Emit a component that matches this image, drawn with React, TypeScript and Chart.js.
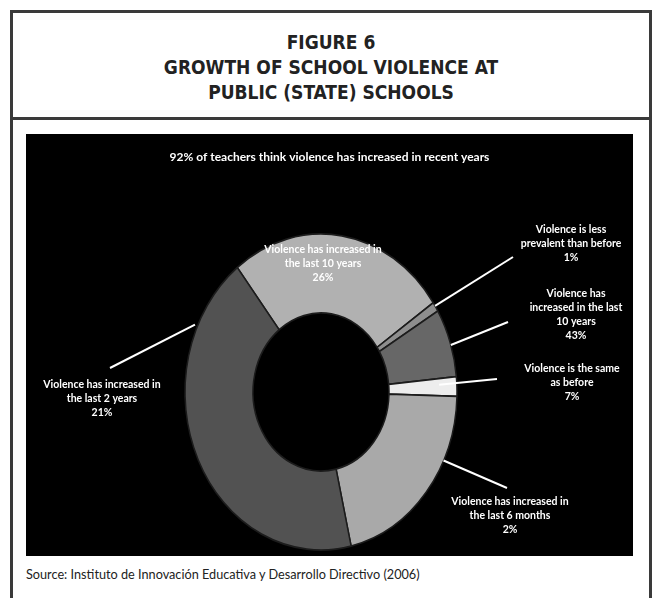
import React, { useEffect, useRef } from "react";
import { Chart, registerables } from "chart.js";

Chart.register(...registerables);

// ---- data ----
const categories = [
  "Violence has increased in the last 10 years",
  "Violence is less prevalent than before",
  "Violence has increased in the last 10 years (b)",
  "Violence is the same as before",
  "Violence has increased in the last 6 months",
  "Violence has increased in the last 2 years",
];
const sliceShares = [26, 1, 7, 2, 21, 43];
const printedPercents = ["26%", "1%", "43%", "7%", "2%", "21%"];
const labelLines = [
  ["Violence has increased in", "the last 10 years"],
  ["Violence is less", "prevalent than before"],
  ["Violence has", "increased in the last", "10 years"],
  ["Violence is the same", "as before"],
  ["Violence has increased in", "the last 6 months"],
  ["Violence has increased in", "the last 2 years"],
];
const subtitleText = "92% of teachers think violence has increased in recent years";
const titleLines = ["FIGURE 6", "GROWTH OF SCHOOL VIOLENCE AT", "PUBLIC (STATE) SCHOOLS"];
const sourceText = "Source: Instituto de Innovación Educativa y Desarrollo Directivo (2006)";

// ---- styles / layout ----
const sliceColors = ["#b1b1b1", "#8e8e8e", "#676767", "#ededed", "#a9a9a9", "#525252"];
const Y_STRETCH = 158 / 136;
const LABEL_FONT = "bold 10.5px Lato, 'Open Sans', sans-serif";
const LINE_H = 14;
// text anchor (first line centre) and leader line, relative to doughnut centre
const labelLayout = [
  { tx: 2, ty: -142, leader: null },
  { tx: 250, ty: -162, leader: { angle: 57, r: 1.0, ex: 192, ey: -135 } },
  { tx: 255, ty: -98, leader: { angle: 72.7, r: 1.0, ex: 187, ey: -70 } },
  { tx: 251, ty: -23, leader: { angle: 87, r: 0.87, ex: 176, ey: -13 } },
  { tx: 189, ty: 110, leader: { angle: 115.7, r: 1.0, ex: 186, ey: 96 } },
  { tx: -219, ty: -7, leader: { angle: 294.7, r: 1.02, ex: -211, ey: -24 } },
];

const ellipsePlugin = {
  id: "ellipseStretch",
  beforeDatasetsDraw(chart: any) {
    const arc = chart.getDatasetMeta(0).data[0];
    if (!arc) return;
    const ctx = chart.ctx;
    ctx.save();
    ctx.translate(arc.x, arc.y);
    ctx.scale(1, Y_STRETCH);
    ctx.translate(-arc.x, -arc.y);
  },
  afterDatasetsDraw(chart: any) {
    chart.ctx.restore();
  },
};

const labelPlugin = {
  id: "sliceLabels",
  afterDraw(chart: any) {
    const ctx = chart.ctx;
    const meta = chart.getDatasetMeta(0);
    const arc0 = meta.data[0];
    if (!arc0) return;
    const cx = arc0.x;
    const cy = arc0.y;
    ctx.save();
    // subtitle
    ctx.fillStyle = "#ffffff";
    ctx.font = "bold 12px Lato, 'Open Sans', sans-serif";
    ctx.textAlign = "center";
    ctx.textBaseline = "middle";
    ctx.fillText(subtitleText, chart.width / 2, 23);

    meta.data.forEach((arc: any, i: number) => {
      const lay = labelLayout[i];
      if (!lay) return;
      if (lay.leader) {
        const th = ((lay.leader.angle - 90) * Math.PI) / 180;
        const r = arc.outerRadius * lay.leader.r;
        const sx = cx + r * Math.cos(th);
        const sy = cy + r * Y_STRETCH * Math.sin(th);
        ctx.strokeStyle = "#ffffff";
        ctx.lineWidth = 2;
        ctx.beginPath();
        ctx.moveTo(sx, sy);
        ctx.lineTo(cx + lay.leader.ex, cy + lay.leader.ey);
        ctx.stroke();
      }
      const lines = [...labelLines[i], printedPercents[i]];
      ctx.font = LABEL_FONT;
      ctx.fillStyle = "#ffffff";
      lines.forEach((ln, k) => {
        ctx.fillText(ln, cx + lay.tx, cy + lay.ty + k * LINE_H);
      });
    });
    ctx.restore();
  },
};

function DoughnutChart() {
  const ref = useRef<HTMLCanvasElement | null>(null);
  useEffect(() => {
    if (!ref.current) return;
    const chart = new Chart(ref.current, {
      type: "doughnut",
      data: {
        labels: categories,
        datasets: [
          {
            data: sliceShares,
            backgroundColor: sliceColors,
            borderColor: "#1c1c1c",
            borderWidth: 1.5,
            clip: false,
          } as any,
        ],
      },
      options: {
        animation: false,
        responsive: false,
        events: [],
        rotation: -38,
        cutout: "50%",
        radius: 136,
        layout: { padding: { left: 155, right: 172, top: 118, bottom: 24 } },
        plugins: {
          legend: { display: false },
          title: { display: false },
          tooltip: { enabled: false },
        },
      },
      plugins: [ellipsePlugin, labelPlugin],
    });
    return () => chart.destroy();
  }, []);
  return <canvas ref={ref} width={607} height={422} style={{ display: "block" }} />;
}

export default function App() {
  return (
    <div
      style={{
        position: "absolute",
        left: 0,
        top: 0,
        width: 652,
        height: 598,
        overflow: "hidden",
        background: "#ffffff",
      }}
    >
      <div
        style={{
          position: "absolute",
          left: 10,
          top: 10,
          width: 642,
          height: 640,
          boxSizing: "border-box",
          border: "3px solid #3a3a3a",
        }}
      />
      <div
        style={{
          position: "absolute",
          left: 10,
          top: 117,
          width: 642,
          height: 3,
          background: "#3a3a3a",
        }}
      />
      <div
        style={{
          position: "absolute",
          left: 10,
          top: 30,
          width: 642,
          textAlign: "center",
          fontFamily: "'DejaVu Sans Condensed', 'DejaVu Sans', sans-serif",
          fontStretch: "condensed",
          fontWeight: "bold",
          fontSize: 19,
          lineHeight: "25px",
          color: "#222222",
        }}
      >
        {titleLines.map((t) => (
          <div key={t}>{t}</div>
        ))}
      </div>
      <div
        style={{
          position: "absolute",
          left: 26,
          top: 134,
          width: 607,
          height: 422,
          background: "#000000",
        }}
      >
        <DoughnutChart />
      </div>
      <div
        style={{
          position: "absolute",
          left: 26,
          top: 566,
          fontFamily: "Lato, 'Open Sans', sans-serif",
          fontSize: 12.7,
          lineHeight: "16px",
          color: "#222222",
          whiteSpace: "nowrap",
        }}
      >
        {sourceText}
      </div>
    </div>
  );
}
